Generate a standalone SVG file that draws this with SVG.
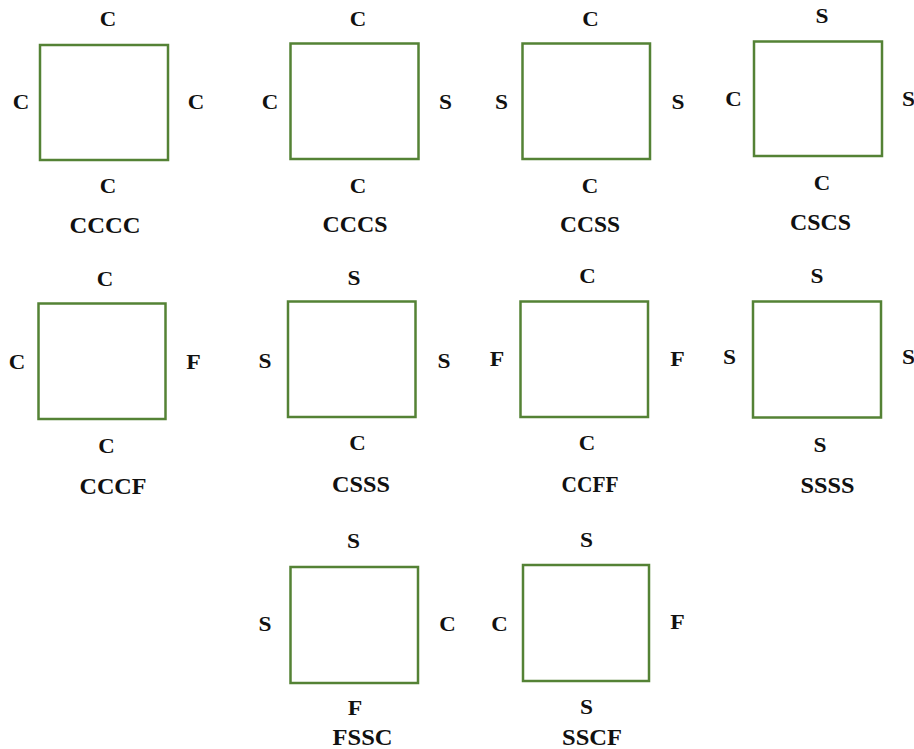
<svg xmlns="http://www.w3.org/2000/svg" width="914" height="749" viewBox="0 0 914 749">
  <style>
    .plate { fill: none; stroke: #548235; stroke-width: 2.5; }
    .edge { font-family: "Liberation Serif", "Times New Roman", serif; font-weight: bold; font-size: 21px; fill: #111; text-anchor: middle; }
    .name { font-family: "Liberation Serif", "Times New Roman", serif; font-weight: bold; font-size: 23px; fill: #111; text-anchor: middle; }
  </style>
  <rect width="914" height="749" fill="#ffffff"/>

  <!-- Row 1 -->
  <g id="plate-cccc">
    <rect class="plate" x="40" y="45" width="128" height="115"/>
    <text class="edge" x="108" y="26" textLength="16.5" lengthAdjust="spacingAndGlyphs">C</text>
    <text class="edge" x="21" y="109" textLength="16.5" lengthAdjust="spacingAndGlyphs">C</text>
    <text class="edge" x="196" y="109" textLength="16.5" lengthAdjust="spacingAndGlyphs">C</text>
    <text class="edge" x="108" y="193" textLength="16.5" lengthAdjust="spacingAndGlyphs">C</text>
    <text class="name" x="105" y="233" textLength="71" lengthAdjust="spacingAndGlyphs">CCCC</text>
  </g>
  <g id="plate-cccs">
    <rect class="plate" x="290.5" y="43.5" width="128" height="115.5"/>
    <text class="edge" x="358" y="25.5" textLength="16.5" lengthAdjust="spacingAndGlyphs">C</text>
    <text class="edge" x="270" y="108.5" textLength="16.5" lengthAdjust="spacingAndGlyphs">C</text>
    <text class="edge" x="445.5" y="108.5" textLength="13" lengthAdjust="spacingAndGlyphs">S</text>
    <text class="edge" x="358" y="192.5" textLength="16.5" lengthAdjust="spacingAndGlyphs">C</text>
    <text class="name" x="355" y="231.5" textLength="65" lengthAdjust="spacingAndGlyphs">CCCS</text>
  </g>
  <g id="plate-ccss">
    <rect class="plate" x="522.5" y="43.5" width="127.5" height="115.5"/>
    <text class="edge" x="590.5" y="25.5" textLength="16.5" lengthAdjust="spacingAndGlyphs">C</text>
    <text class="edge" x="501.5" y="108.5" textLength="13" lengthAdjust="spacingAndGlyphs">S</text>
    <text class="edge" x="678" y="108.5" textLength="13" lengthAdjust="spacingAndGlyphs">S</text>
    <text class="edge" x="590" y="192.5" textLength="16.5" lengthAdjust="spacingAndGlyphs">C</text>
    <text class="name" x="590" y="231.5" textLength="60" lengthAdjust="spacingAndGlyphs">CCSS</text>
  </g>
  <g id="plate-cscs">
    <rect class="plate" x="754" y="41.5" width="128" height="114.5"/>
    <text class="edge" x="822" y="22.5" textLength="13" lengthAdjust="spacingAndGlyphs">S</text>
    <text class="edge" x="733.5" y="106" textLength="16.5" lengthAdjust="spacingAndGlyphs">C</text>
    <text class="edge" x="908.5" y="106" textLength="13" lengthAdjust="spacingAndGlyphs">S</text>
    <text class="edge" x="822" y="190" textLength="16.5" lengthAdjust="spacingAndGlyphs">C</text>
    <text class="name" x="820.5" y="230" textLength="61" lengthAdjust="spacingAndGlyphs">CSCS</text>
  </g>

  <!-- Row 2 -->
  <g id="plate-cccf">
    <rect class="plate" x="38.5" y="303.5" width="127" height="115.5"/>
    <text class="edge" x="105" y="285.5" textLength="16.5" lengthAdjust="spacingAndGlyphs">C</text>
    <text class="edge" x="17" y="368.5" textLength="16.5" lengthAdjust="spacingAndGlyphs">C</text>
    <text class="edge" x="193.5" y="368.5" textLength="14.5" lengthAdjust="spacingAndGlyphs">F</text>
    <text class="edge" x="106.5" y="452.5" textLength="16.5" lengthAdjust="spacingAndGlyphs">C</text>
    <text class="name" x="113" y="493.5" textLength="67" lengthAdjust="spacingAndGlyphs">CCCF</text>
  </g>
  <g id="plate-csss">
    <rect class="plate" x="288" y="301.5" width="127.5" height="115.5"/>
    <text class="edge" x="354" y="285" textLength="13" lengthAdjust="spacingAndGlyphs">S</text>
    <text class="edge" x="265" y="367.5" textLength="13" lengthAdjust="spacingAndGlyphs">S</text>
    <text class="edge" x="444" y="367.5" textLength="13" lengthAdjust="spacingAndGlyphs">S</text>
    <text class="edge" x="357.5" y="450" textLength="16.5" lengthAdjust="spacingAndGlyphs">C</text>
    <text class="name" x="361" y="492" textLength="58" lengthAdjust="spacingAndGlyphs">CSSS</text>
  </g>
  <g id="plate-ccff">
    <rect class="plate" x="520.5" y="301.5" width="127.5" height="115.5"/>
    <text class="edge" x="587.5" y="282.5" textLength="16.5" lengthAdjust="spacingAndGlyphs">C</text>
    <text class="edge" x="497" y="366" textLength="14.5" lengthAdjust="spacingAndGlyphs">F</text>
    <text class="edge" x="677.5" y="366" textLength="14.5" lengthAdjust="spacingAndGlyphs">F</text>
    <text class="edge" x="587" y="450" textLength="16.5" lengthAdjust="spacingAndGlyphs">C</text>
    <text class="name" x="590" y="492" textLength="57" lengthAdjust="spacingAndGlyphs">CCFF</text>
  </g>
  <g id="plate-ssss">
    <rect class="plate" x="753" y="301.5" width="128" height="116"/>
    <text class="edge" x="817" y="282.5" textLength="13" lengthAdjust="spacingAndGlyphs">S</text>
    <text class="edge" x="729.5" y="363.5" textLength="13" lengthAdjust="spacingAndGlyphs">S</text>
    <text class="edge" x="908.5" y="363.5" textLength="13" lengthAdjust="spacingAndGlyphs">S</text>
    <text class="edge" x="820" y="452" textLength="13" lengthAdjust="spacingAndGlyphs">S</text>
    <text class="name" x="827.5" y="492.5" textLength="54" lengthAdjust="spacingAndGlyphs">SSSS</text>
  </g>

  <!-- Row 3 -->
  <g id="plate-fssc">
    <rect class="plate" x="290.5" y="567" width="127.5" height="116"/>
    <text class="edge" x="353.5" y="547.5" textLength="13" lengthAdjust="spacingAndGlyphs">S</text>
    <text class="edge" x="265" y="631" textLength="13" lengthAdjust="spacingAndGlyphs">S</text>
    <text class="edge" x="447.5" y="631" textLength="16.5" lengthAdjust="spacingAndGlyphs">C</text>
    <text class="edge" x="355" y="715" textLength="14.5" lengthAdjust="spacingAndGlyphs">F</text>
    <text class="name" x="362.5" y="744.5" textLength="60" lengthAdjust="spacingAndGlyphs">FSSC</text>
  </g>
  <g id="plate-sscf">
    <rect class="plate" x="523" y="565" width="126" height="116"/>
    <text class="edge" x="586.5" y="547" textLength="13" lengthAdjust="spacingAndGlyphs">S</text>
    <text class="edge" x="499.5" y="631" textLength="16.5" lengthAdjust="spacingAndGlyphs">C</text>
    <text class="edge" x="677.5" y="628.5" textLength="14.5" lengthAdjust="spacingAndGlyphs">F</text>
    <text class="edge" x="586.5" y="713.5" textLength="13" lengthAdjust="spacingAndGlyphs">S</text>
    <text class="name" x="592" y="744.5" textLength="60" lengthAdjust="spacingAndGlyphs">SSCF</text>
  </g>

  <!-- no connectors between the plates -->
  <g id="connectors"/>
</svg>
